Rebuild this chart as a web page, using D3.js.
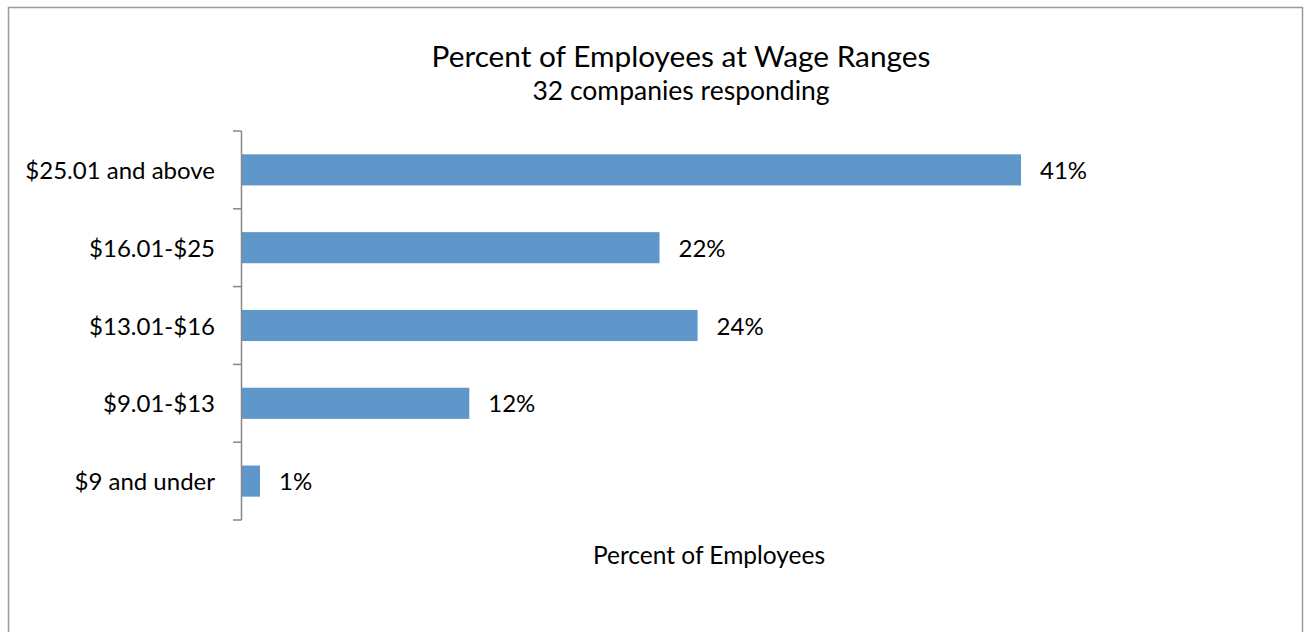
<!DOCTYPE html>
<html>
<head>
<meta charset="utf-8">
<script src="https://cdn.jsdelivr.net/npm/d3@7"></script>
<style>
  html, body { margin: 0; padding: 0; background: #fff; }
  svg { display: block; }
  text { font-family: Lato, "Open Sans", sans-serif; fill: #000; }
</style>
</head>
<body>
<svg id="chart" width="1304" height="632"></svg>
<script>
// Wage ranges, top to bottom as shown
const categories = ["$25.01 and above", "$16.01-$25", "$13.01-$16", "$9.01-$13", "$9 and under"];
// Percent of employees in each range
const percents = [41, 22, 24, 12, 1];

const titleText = "Percent of Employees at Wage Ranges";
const subtitleText = "32 companies responding";
const xAxisTitle = "Percent of Employees";

const svg = d3.select("#chart");

// outer chart frame
svg.append("rect")
  .attr("x", 8.5).attr("y", 7.5)
  .attr("width", 1294).attr("height", 640)
  .attr("fill", "#fff")
  .attr("stroke", "#9a9a9a")
  .attr("stroke-width", 1.5);

const plot = { left: 241, right: 1021, top: 131, bottom: 520 };

const x = d3.scaleLinear()
  .domain([0, 41])
  .range([plot.left, plot.right]);

const y = d3.scaleBand()
  .domain(categories)
  .range([plot.top, plot.bottom])
  .paddingInner(0.6)
  .paddingOuter(0.3);

// bars
svg.append("g").selectAll("rect")
  .data(categories)
  .join("rect")
  .attr("x", x(0) + 1)
  .attr("y", d => y(d))
  .attr("width", (d, i) => x(percents[i]) - x(0) - 1)
  .attr("height", y.bandwidth())
  .attr("fill", "#6097cb");

// value labels
svg.append("g").selectAll("text")
  .data(categories)
  .join("text")
  .attr("x", (d, i) => x(percents[i]) + 19)
  .attr("y", d => y(d) + y.bandwidth() / 2 + 9)
  .style("font-size", "24px")
  .text((d, i) => percents[i] + "%");

// category axis with tick marks between bands
const yAxisG = svg.append("g");
yAxisG.append("line")
  .attr("x1", plot.left + 0.5).attr("x2", plot.left + 0.5)
  .attr("y1", plot.top).attr("y2", plot.bottom)
  .attr("stroke", "#888").attr("stroke-width", 1.5);

const step = (plot.bottom - plot.top) / categories.length;
const boundaries = d3.range(categories.length + 1).map(i => plot.top + i * step);
yAxisG.selectAll("line.tick")
  .data(boundaries)
  .join("line")
  .attr("class", "tick")
  .attr("x1", plot.left - 8).attr("x2", plot.left + 0.5)
  .attr("y1", d => d).attr("y2", d => d)
  .attr("stroke", "#888").attr("stroke-width", 1.5);

yAxisG.selectAll("text")
  .data(categories)
  .join("text")
  .attr("x", 215)
  .attr("y", d => y(d) + y.bandwidth() / 2 + 9)
  .attr("text-anchor", "end")
  .style("font-size", "24px")
  .text(d => d);

// titles
svg.append("text")
  .attr("x", 681).attr("y", 67)
  .attr("text-anchor", "middle")
  .style("font-size", "29.8px")
  .text(titleText);

svg.append("text")
  .attr("x", 681).attr("y", 100)
  .attr("text-anchor", "middle")
  .style("font-size", "26.5px")
  .text(subtitleText);

svg.append("text")
  .attr("x", 709).attr("y", 564)
  .attr("text-anchor", "middle")
  .style("font-size", "24.5px")
  .text(xAxisTitle);
</script>
</body>
</html>
